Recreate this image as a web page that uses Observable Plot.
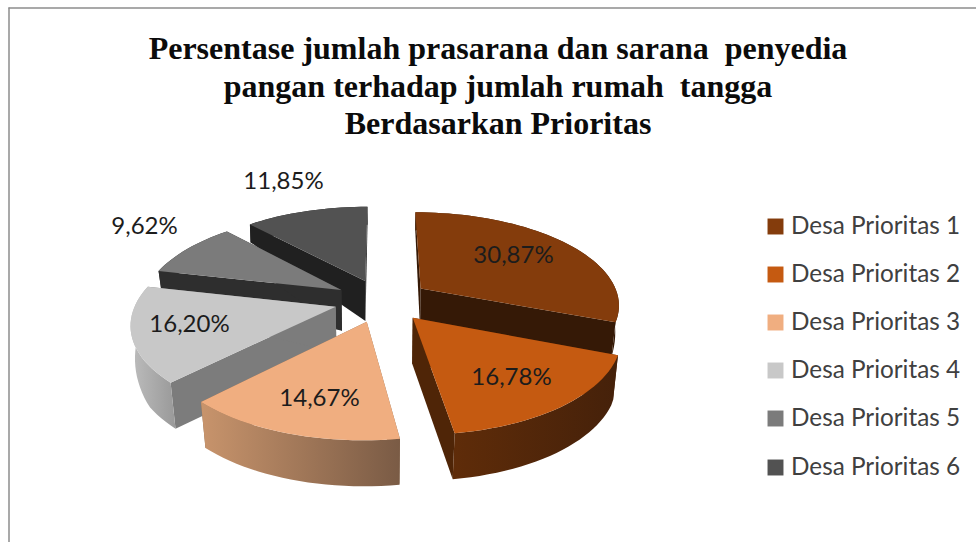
<!DOCTYPE html>
<html><head><meta charset="utf-8">
<script src="https://cdn.jsdelivr.net/npm/d3@7"></script>
<script src="https://cdn.jsdelivr.net/npm/@observablehq/plot@0.6"></script>
<style>html,body{margin:0;background:#fff}svg{display:block;white-space:pre}</style>
</head><body><div id="c"></div>
<script>
const titleLines = ["Persentase jumlah prasarana dan sarana  penyedia","pangan terhadap jumlah rumah  tangga","Berdasarkan Prioritas"];
const categories = ["Desa Prioritas 1","Desa Prioritas 2","Desa Prioritas 3","Desa Prioritas 4","Desa Prioritas 5","Desa Prioritas 6"];
const values = [30.87,16.78,14.67,16.20,9.62,11.85];

// styles and layout
const topColors = ["#843C0C","#C55A11","#F0AE80","#C8C8C8","#7B7B7B","#525252"];
const sideColors = ["#351906","#4F2507","#8A6A4F","#7C7C7C","#2E2E2E","#202020"];
const rimFrom = ["#4a2308","#5F2C09","#C8946C","#BDBDBD","#2E2E2E","#202020"];
const rimTo = ["#351906","#45210A","#7A5B45","#999999","#2E2E2E","#202020"];
const labelPos = [[513,255],[511,377],[319,398],[189,324],[144,226],[283,181]];
const legendY = [226,274,322,370,418,467];
const paintOrder = [5,4,3,2,0,1];
const cx=381.5, cy=300, B=199, A=92, k=0.16, ex=0.24, ey=0.234;

const total = d3.sum(values);
const fmt = v => v.toFixed(2).replace(".",",")+"%";
let acc = 0;
const slices = values.map((v,i)=>{
  const t0 = acc/total*2*Math.PI; acc += v; const t1 = acc/total*2*Math.PI;
  const m = (t0+t1)/2;
  return {i,name:categories[i],t0,t1,ax:ex*Math.sin(m),ay:ey*Math.cos(m)};
});
const clamp=(v,a,b)=>Math.max(a,Math.min(b,v));
const topPt=(X,Y)=>{const w=1+k*Y;return {x:cx+B*X/w,y:cy-A*Y/w};};
const botPt=(X,Y)=>{
  const p=topPt(X,Y), u=Y+0.6*Math.abs(X);
  return {x:cx+(p.x-cx)*clamp(0.985+0.0105*Y,0.97,0.998),y:p.y+clamp(45-30*(u-0.1),18,46)};
};
const arc=(s,pt)=>{
  const n=Math.ceil((s.t1-s.t0)/0.04), r=[];
  for(let j=0;j<=n;j++){const t=s.t0+(s.t1-s.t0)*j/n;r.push(pt(s.ax+Math.sin(t),s.ay+Math.cos(t)));}
  return r;
};
const side=(s,t)=>{
  const X=s.ax+Math.sin(t),Y=s.ay+Math.cos(t);
  return [topPt(s.ax,s.ay),topPt(X,Y),botPt(X,Y),botPt(s.ax,s.ay)];
};

const defs = () => {
  const d = d3.create("svg:defs");
  slices.forEach((s,i)=>{
    const g=d.append("linearGradient").attr("id","rim"+i);
    g.append("stop").attr("offset","0%").attr("stop-color",rimFrom[i]);
    g.append("stop").attr("offset","100%").attr("stop-color",rimTo[i]);
  });
  return d.node();
};
const face=(pts,fill)=>Plot.line(pts,{x:"x",y:"y",fill,stroke:"none"});

const sliceMarks = paintOrder.flatMap(i=>{
  const s=slices[i];
  const top=[topPt(s.ax,s.ay),...arc(s,topPt)].map(p=>({...p,name:s.name}));
  const a=arc(s,topPt), b=arc(s,botPt).reverse();
  return [
    face(side(s,s.t0),sideColors[i]),
    face(side(s,s.t1),sideColors[i]),
    face([...a,...b],`url(#rim${i})`),
    Plot.line(top,{x:"x",y:"y",fill:"name",stroke:"none"})
  ];
});

const labels = values.map((v,i)=>({text:fmt(v),x:labelPos[i][0],y:labelPos[i][1]}));
const legend = categories.map((name,i)=>({name,y:legendY[i]}));
const titleRows = titleLines.map((text,i)=>({text,y:[48,86,123][i]}));

const chart = Plot.plot({
  width:976,height:542,margin:0,
  x:{axis:null,domain:[0,976],range:[0,976]},
  y:{axis:null,domain:[0,542],range:[0,542]},
  color:{type:"ordinal",domain:categories,range:topColors},
  style:{background:"#fff",fontFamily:"Lato,sans-serif"},
  marks:[
    defs,
    Plot.ruleY([7.5],{x1:8.5,x2:976,stroke:"#8c8c8c",strokeWidth:1.5}),
    Plot.ruleX([8.5],{y1:7.5,y2:542,stroke:"#8c8c8c",strokeWidth:1.5}),
    Plot.text(titleRows,{x:()=>497.5,y:"y",text:"text",fontFamily:"'Liberation Serif',serif",fontWeight:"bold",fontSize:32,fill:"#0b0b0b",textAnchor:"middle",lineAnchor:"middle"}),
    ...sliceMarks,
    Plot.text(labels,{x:"x",y:"y",text:"text",fontSize:24,fill:"#1c1c1c",textAnchor:"middle",lineAnchor:"middle"}),
    Plot.dot(legend,{x:()=>775,y:"y",fill:"name",symbol:"square",r:9,stroke:"none"}),
    Plot.text(legend,{x:()=>790.5,y:"y",text:"name",fontSize:24.3,fill:"#404040",textAnchor:"start",lineAnchor:"middle"})
  ]
});
document.getElementById("c").append(chart);
</script></body></html>
